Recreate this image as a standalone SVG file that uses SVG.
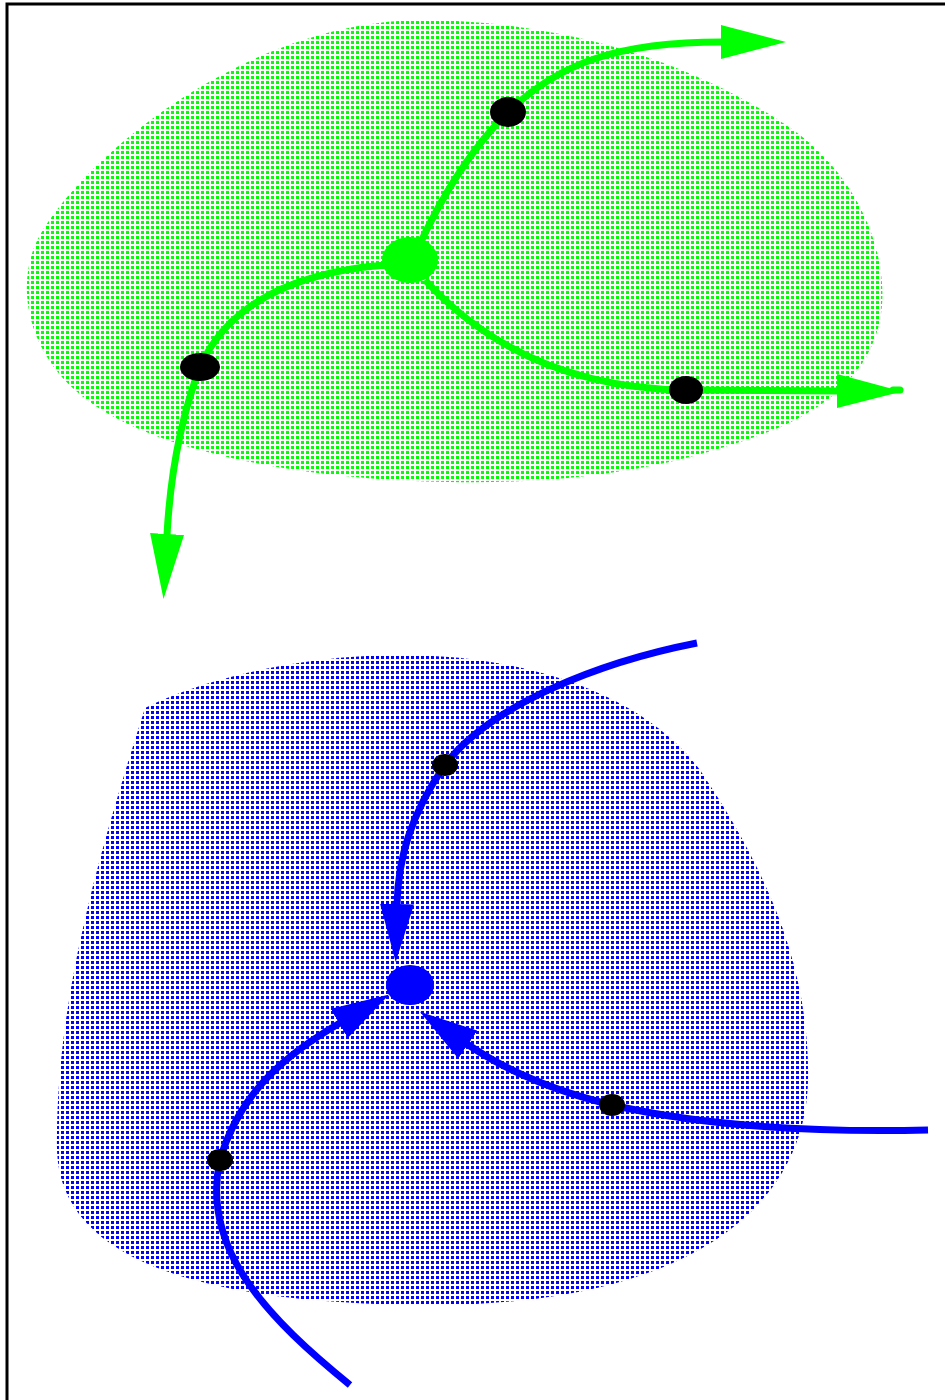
<svg xmlns="http://www.w3.org/2000/svg" width="945" height="1400" viewBox="0 0 945 1400">
<style>
.gline{fill:none;stroke:#00ff00;stroke-width:7}
.bline{fill:none;stroke:#0000ff;stroke-width:7}
.dot{fill:#000}
.frame{stroke:#000;stroke-width:3;fill:none}
</style>
<defs>
<pattern id="pg" width="5" height="5" patternUnits="userSpaceOnUse"><rect x="1" y="1" width="3" height="3" fill="#00ff00"/></pattern>
<pattern id="pb" width="5" height="5" patternUnits="userSpaceOnUse"><rect x="1" y="1" width="3" height="3" fill="#0000ff"/></pattern>
<marker id="ag" viewBox="0 0 65 34" refX="1" refY="17" markerWidth="65" markerHeight="34" markerUnits="userSpaceOnUse" orient="auto"><path d="M0,0 L65,17 L0,34 Z" fill="#00ff00"/></marker>
<marker id="ab" viewBox="0 0 58 34" refX="1" refY="17" markerWidth="58" markerHeight="34" markerUnits="userSpaceOnUse" orient="auto"><path d="M0,0 L58,17 L0,34 Z" fill="#0000ff"/></marker>
</defs>
<g id="frame"><path class="frame" d="M7,1400 L7,4 L945,4"/></g>
<g id="region-green"><path fill="url(#pg)" d="M420,20 C560,20 700,62 800,135 C870,190 890,270 880,320 C870,370 830,410 760,435 C660,472 560,484 450,482 C300,480 140,450 75,390 C25,345 15,280 40,235 C90,150 250,22 420,20 Z"/></g>
<g id="region-blue"><path fill="url(#pb)" d="M145,708 C200,680 300,655 400,655 C520,655 640,690 700,770 C760,860 810,960 808,1080 C806,1200 700,1302 440,1305 C200,1305 60,1260 57,1150 C55,1000 100,850 145,708 Z"/></g>
<g id="connectors">
<path class="gline" marker-end="url(#ag)" d="M418,248 C440,200 470,150 508,112 C560,62 620,42 722,42"/>
<path class="gline" marker-end="url(#ag)" d="M385,265 C300,272 230,300 200,367 C180,420 170,480 167,535"/>
<path class="gline" marker-end="url(#ag)" d="M425,280 C480,340 560,388 686,390 L838,391"/>
<path class="gline" stroke-linecap="round" d="M893,390 L900,390"/>
<path class="bline" marker-end="url(#ab)" d="M697,643 C600,662 490,705 445,765 C410,815 398,860 397,905"/>
<path class="bline" marker-end="url(#ab)" d="M350,1385 C270,1320 200,1250 220,1160 C240,1090 290,1052 340,1023"/>
<path class="bline" marker-end="url(#ab)" d="M928,1130 C800,1133 700,1125 612,1105 C550,1090 505,1070 467,1044"/>
</g>
<g id="node-green-center"><ellipse cx="410" cy="260" rx="28" ry="23" fill="#00ff00"/></g>
<g id="node-g1"><ellipse class="dot" cx="508" cy="112" rx="18" ry="15"/></g>
<g id="node-g2"><ellipse class="dot" cx="200" cy="367" rx="20" ry="14"/></g>
<g id="node-g3"><ellipse class="dot" cx="686" cy="390" rx="17" ry="14"/></g>
<g id="node-blue-center"><ellipse cx="410" cy="985" rx="24" ry="20" fill="#0000ff"/></g>
<g id="node-b1"><ellipse class="dot" cx="445" cy="765" rx="13" ry="11"/></g>
<g id="node-b2"><ellipse class="dot" cx="612" cy="1105" rx="13" ry="11"/></g>
<g id="node-b3"><ellipse class="dot" cx="220" cy="1160" rx="13" ry="11"/></g>
</svg>
